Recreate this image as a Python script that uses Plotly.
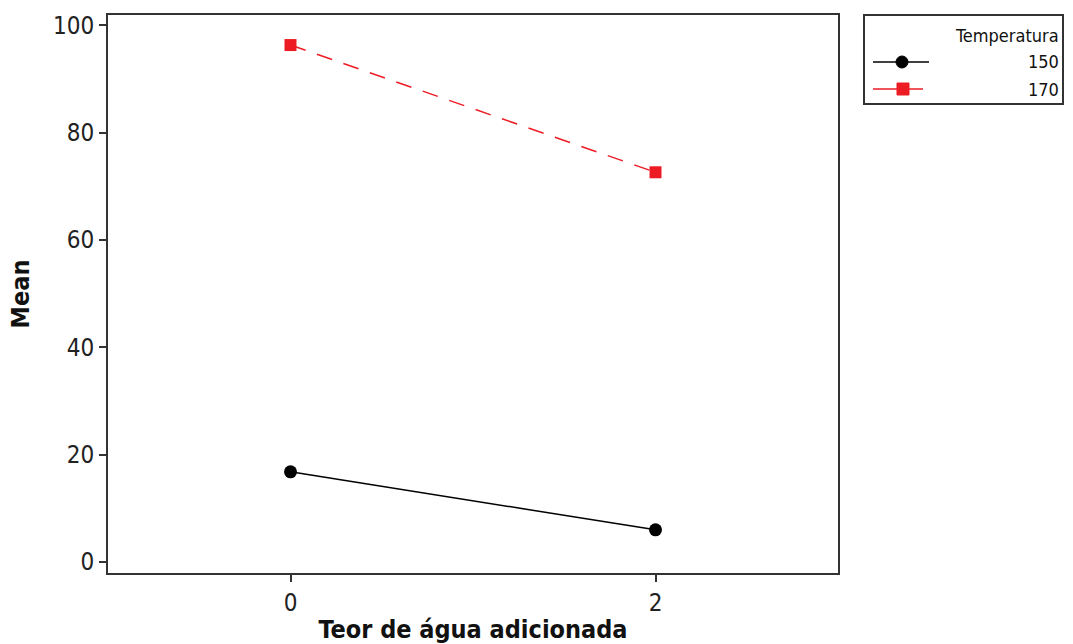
import plotly.graph_objects as go

# Interaction plot: mean response vs. added water content, one line per temperature
teor_agua = [0, 2]
temperaturas = ["150", "170"]
media_150 = [16.8, 6.0]
media_170 = [96.3, 72.6]
y_ticks = [0, 20, 40, 60, 80, 100]
x_ticks = [0, 2]

W, H = 1073, 644
L, R, T, B = 108, 838, 15, 573  # plot area in pixels

def px(x):
    return (x - L) / (R - L)

def py(y):
    return (B - y) / (B - T)

FONT = "DejaVu Sans Condensed, Liberation Sans, sans-serif"
BLACK = "#000000"
RED = "#ED1C24"

fig = go.Figure()
fig.add_trace(go.Scatter(
    x=teor_agua, y=media_150, mode="lines+markers", name=temperaturas[0],
    line=dict(color=BLACK, width=1.5),
    marker=dict(symbol="circle", size=13, color=BLACK),
))
fig.add_trace(go.Scatter(
    x=teor_agua, y=media_170, mode="lines+markers", name=temperaturas[1],
    line=dict(color=RED, width=1.5, dash="16px,12px"),
    marker=dict(symbol="square", size=12, color=RED),
))

axis_common = dict(
    showline=True, linecolor="#333333", linewidth=2, mirror=True,
    ticks="outside", ticklen=7, tickwidth=1.5, tickcolor="#333333",
    showgrid=False, zeroline=False, automargin=False,
    tickfont=dict(family=FONT, size=24, color="#222222"),
)

fig.update_xaxes(
    range=[-1, 3], tickvals=x_ticks, ticktext=[str(v) for v in x_ticks],
    title=dict(text="<b>Teor de água adicionada</b>", standoff=14,
               font=dict(family=FONT, size=25, color="#111111")),
    **axis_common,
)
fig.update_yaxes(
    range=[-2.05, 101.9], tickvals=y_ticks, ticktext=[str(v) for v in y_ticks],
    title=dict(text="<b>Mean</b>", standoff=16,
               font=dict(family=FONT, size=25, color="#111111")),
    **axis_common,
)

# Legend panel drawn at the right of the plot
shapes = [
    dict(type="rect", xref="paper", yref="paper",
         x0=px(864), x1=px(1063), y0=py(104), y1=py(15),
         line=dict(color="#333333", width=2), fillcolor="white"),
    dict(type="line", xref="paper", yref="paper",
         x0=px(873), x1=px(929), y0=py(62), y1=py(62),
         line=dict(color=BLACK, width=1.5)),
    dict(type="circle", xref="paper", yref="paper",
         x0=px(896), x1=px(908), y0=py(68), y1=py(56),
         line=dict(color=BLACK, width=1), fillcolor=BLACK),
    dict(type="line", xref="paper", yref="paper",
         x0=px(873), x1=px(923), y0=py(89), y1=py(89),
         line=dict(color=RED, width=1.5)),
    dict(type="rect", xref="paper", yref="paper",
         x0=px(897), x1=px(909), y0=py(95), y1=py(83),
         line=dict(color=RED, width=1), fillcolor=RED),
]
legend_font = dict(family=FONT, size=18, color="#111111")
annotations = [
    dict(text="Temperatura", xref="paper", yref="paper", x=px(1061), y=py(35),
         xanchor="right", yanchor="middle", showarrow=False, font=legend_font),
    dict(text=temperaturas[0], xref="paper", yref="paper", x=px(1061), y=py(62),
         xanchor="right", yanchor="middle", showarrow=False, font=legend_font),
    dict(text=temperaturas[1], xref="paper", yref="paper", x=px(1061), y=py(89),
         xanchor="right", yanchor="middle", showarrow=False, font=legend_font),
]

fig.update_layout(
    width=W, height=H,
    margin=dict(l=L, r=W - R, t=T, b=H - B, autoexpand=False),
    paper_bgcolor="white", plot_bgcolor="white",
    showlegend=False,
    shapes=shapes, annotations=annotations,
)

fig.write_html("out.html")
